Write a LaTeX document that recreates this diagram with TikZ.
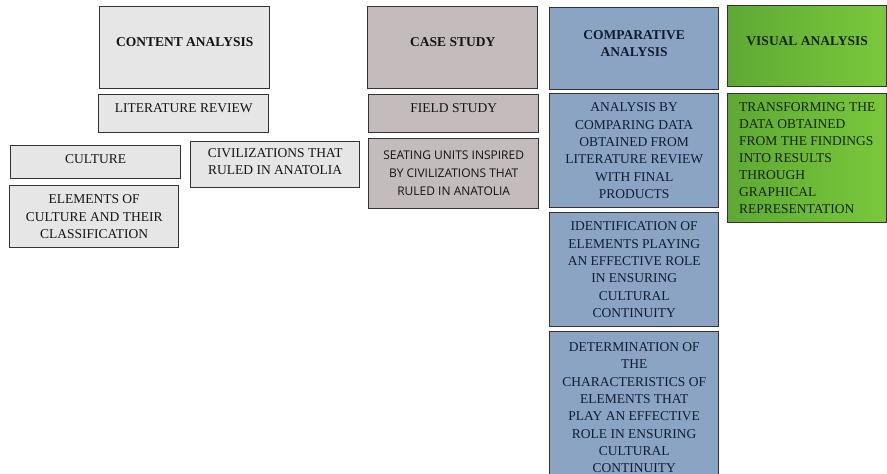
\documentclass[tikz,border=0pt]{standalone}
\usepackage{fontspec}
\setmainfont{Liberation Serif}
\newfontfamily\seatfont{Open Sans}
\definecolor{contentgray}{HTML}{E6E6E6}
\definecolor{casegray}{HTML}{C4BCBC}
\definecolor{compblue}{HTML}{8BA4C4}
\definecolor{visgreenleft}{HTML}{5EA934}
\definecolor{visgreenright}{HTML}{7AC83C}
\definecolor{edgegray}{HTML}{333333}
\definecolor{navytext}{HTML}{101C30}
\definecolor{greentext}{HTML}{16220E}
\begin{document}
\begin{tikzpicture}[x=1pt, y=-1pt,
    box/.style={draw=edgegray, line width=1.4pt, anchor=north west, align=center,
        inner sep=2pt, text=black!92, font=\fontsize{13.5}{17.3}\selectfont},
    title/.style={font=\fontsize{13.5}{17.3}\selectfont\bfseries, text depth=11pt},
    raised/.style={text depth=#1},
    contentbox/.style={box, fill=contentgray},
    casebox/.style={box, fill=casegray},
    compbox/.style={box, fill=compblue, text=navytext},
    visbox/.style={box, left color=visgreenleft, right color=visgreenright, text=greentext}]
    \useasboundingbox (0,0) rectangle (887,474);
    % content analysis
    \node[contentbox, title, minimum width=170pt, minimum height=82pt] (content) at (99,6) {CONTENT ANALYSIS};
    \node[contentbox, raised=12pt, minimum width=170pt, minimum height=38pt] (litreview) at (98,94) {LITERATURE REVIEW};
    \node[contentbox, raised=6pt, minimum width=170pt, minimum height=33pt] (culture) at (10,145) {CULTURE};
    \node[contentbox, raised=7pt, minimum width=169pt, minimum height=46pt] (civil) at (190,141) {CIVILIZATIONS THAT\\RULED IN ANATOLIA};
    \node[contentbox, minimum width=169pt, minimum height=62pt] (elements) at (9,185) {ELEMENTS OF\\CULTURE AND THEIR\\CLASSIFICATION};
    % case study
    \node[casebox, title, minimum width=170pt, minimum height=82pt] (case) at (367,6) {CASE STUDY};
    \node[casebox, raised=12pt, minimum width=170pt, minimum height=38pt] (field) at (368,94) {FIELD STUDY};
    \node[casebox, minimum width=170pt, minimum height=70pt, font=\seatfont\fontsize{12}{18}\selectfont] (seating) at (368,138) {SEATING UNITS INSPIRED\\BY CIVILIZATIONS THAT\\RULED IN ANATOLIA};
    % comparative analysis
    \node[compbox, title, minimum width=169pt, minimum height=82pt] (comp) at (549,7) {COMPARATIVE\\ANALYSIS};
    \node[compbox, minimum width=169pt, minimum height=114pt] (compdata) at (549,93) {ANALYSIS BY\\COMPARING DATA\\OBTAINED FROM\\LITERATURE REVIEW\\WITH FINAL\\PRODUCTS};
    \node[compbox, minimum width=169pt, minimum height=114pt] (identify) at (549,212) {IDENTIFICATION OF\\ELEMENTS PLAYING\\AN EFFECTIVE ROLE\\IN ENSURING\\CULTURAL\\CONTINUITY};
    \node[compbox, minimum width=169pt, minimum height=152pt] (determine) at (549,331) {DETERMINATION OF\\THE\\CHARACTERISTICS OF\\ELEMENTS THAT\\PLAY AN EFFECTIVE\\ROLE IN ENSURING\\CULTURAL\\CONTINUITY};
    % visual analysis
    \node[visbox, title, minimum width=159pt, minimum height=81pt] (visual) at (727,5) {VISUAL ANALYSIS};
    \node[visbox, align=left, font=\fontsize{13.5}{17}\selectfont, minimum width=159pt, minimum height=129pt] (transform) at (727,93) {TRANSFORMING THE\\DATA OBTAINED\\FROM THE FINDINGS\\INTO RESULTS\\THROUGH\\GRAPHICAL\\REPRESENTATION};
\end{tikzpicture}
\end{document}
